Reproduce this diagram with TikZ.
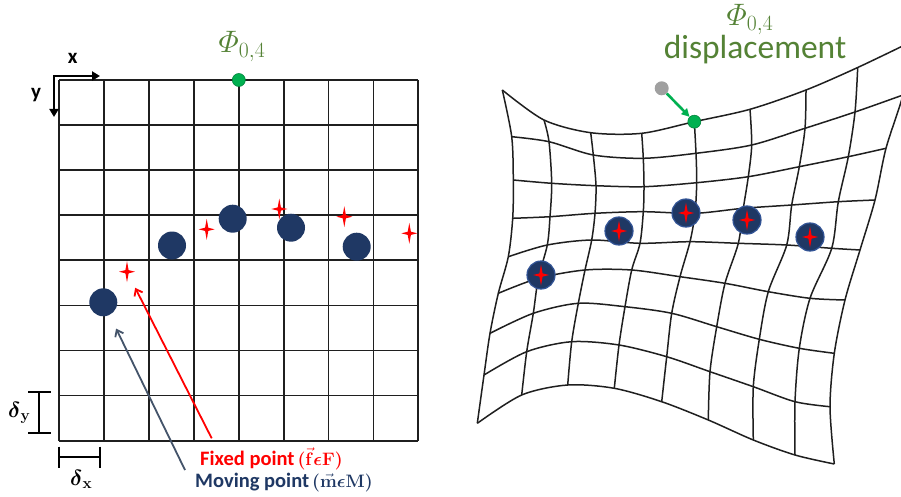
\RequirePackage{fix-cm}
\documentclass[tikz,border=0pt]{standalone}
\usepackage{amsmath,amssymb}
\usepackage[no-math]{fontspec}
\setmainfont{Carlito}
\usepackage{xcolor}
\usetikzlibrary{arrows.meta,calc}

\definecolor{mnavy}{RGB}{31,56,100}
\definecolor{rimblue}{RGB}{50,84,150}
\definecolor{slate}{RGB}{68,84,106}
\definecolor{ggreen}{RGB}{84,130,53}
\definecolor{gdotc}{RGB}{0,176,80}
\definecolor{ghost}{RGB}{160,160,160}

\newcommand{\smallmath}[1]{\hspace{3pt}{\fontsize{18}{20}\selectfont$#1$}}

\begin{document}
\begin{tikzpicture}[x=1pt,y=-1pt,
    every node/.style={inner sep=0pt},
    gline/.style ={line width=1.8pt,black!88},
    wline/.style ={line width=1.5pt,black!88},
    brk/.style   ={line width=2pt,black},
    mdot/.style  ={circle,fill=mnavy,minimum size=28pt},
    mdotw/.style ={circle,fill=mnavy,draw=rimblue,line width=1.2pt,
                   minimum size=28pt},
    gdot/.style  ={circle,fill=gdotc,draw=gdotc!75!black,line width=0.6pt,
                   minimum size=13pt},
    ghostdot/.style={circle,fill=ghost,minimum size=14pt},
    phi/.style   ={text=ggreen,font=\fontsize{31}{33}\selectfont},
    disp/.style  ={text=ggreen,font=\fontsize{33.5}{36}\selectfont},
    axlab/.style ={font=\fontsize{21}{23}\selectfont\bfseries},
    dlab/.style  ={font=\fontsize{22}{24}\selectfont},
    flab/.style  ={text=red,font=\fontsize{20.5}{22}\selectfont\bfseries},
    mlab/.style  ={text=mnavy,font=\fontsize{20.5}{22}\selectfont\bfseries},
    axarr/.style ={line width=2.6pt,{Triangle[length=8pt,width=9pt]}-{Triangle[length=8pt,width=9pt]}},
    farr/.style  ={line width=1.8pt,red,-{Straight Barb[length=6pt,width=9pt]}},
    marr/.style  ={line width=1.8pt,slate,-{Straight Barb[length=6pt,width=9pt]}},
    garr/.style  ={line width=2.6pt,gdotc,-{Triangle[length=8pt,width=8pt]}},
    fstar/.pic   ={\fill[red] (0,-10.5) -- (1.6,-1.6) -- (8,0) -- (1.6,1.6)
                   -- (0,10.5) -- (-1.6,1.6) -- (-8,0) -- (-1.6,-1.6) -- cycle;},
  ]
  \path[fill=white] (0,0) rectangle (901,497);
  \useasboundingbox (0,0) rectangle (901,497);

  % Left: regular control grid
  \foreach \i in {0,...,8} {
    \draw[gline] ({59.3+44.875*\i},80) -- ({59.3+44.875*\i},440.7);
    \draw[gline] (59.3,{80+45.08*\i}) -- (418.3,{80+45.08*\i});
  }

  % axes
  \coordinate (orig) at (54,76);
  \coordinate (xend) at (100,76);
  \coordinate (yend) at (54,117);
  \draw[axarr] (yend) -- (orig) -- (xend);
  \node[axlab] (xlab) at (72.7,58) {x};
  \node[axlab] (ylab) at (36,95) {y};

  % grid spacing
  \draw[brk] (28.3,391.7) -- (50.7,391.7) (39.3,391.7) -- (39.3,432.7)
             (28.3,432.7) -- (50.7,432.7);
  \draw[brk] (59,446.7) -- (59,468.3) (59,457.3) -- (100,457.3)
             (100,446.7) -- (100,468.3);
  \node[dlab,anchor=base west] (dy) at (8,417) {$\boldsymbol{\delta}_{\mathbf y}$};
  \node[dlab,anchor=base west] (dx) at (70,485) {$\boldsymbol{\delta}_{\mathbf x}$};

  % control point
  \node[gdot] (cpL) at (238.8,80) {};
  \node[phi,anchor=base] (phiL) at (242,53) {$\varPhi_{0,4}$};

  % moving and fixed points
  \foreach \x/\y [count=\k] in {103.3/302.3,172/245.5,232.7/218.7,291/227.7,356.7/246.7}
    \node[mdot] (mp\k) at (\x,\y) {};
  \foreach \x/\y [count=\k] in {127/271.7,206.7/229.3,279.3/209,344.3/216.7,409.3/233.3} {
    \coordinate (fp\k) at (\x,\y);
    \pic at (fp\k) {fstar};
  }

  % legend
  \node[flab,anchor=base west] (flab) at (200,465)
    {Fixed point\smallmath{\boldsymbol{(}\vec{\mathbf f}\boldsymbol{\epsilon}\mathbf F\boldsymbol{)}}};
  \node[mlab,anchor=base west] (mlab) at (195,487)
    {Moving point\smallmath{\boldsymbol{(}\vec{\mathbf m}\boldsymbol{\epsilon}\mathbf M\boldsymbol{)}}};
  \coordinate (ftail) at (211.7,438.3);
  \coordinate (mtail) at (185,470);
  \draw[farr,shorten >=18pt] (ftail) -- (fp1);
  \draw[marr,shorten >=15pt] (mtail) -- (mp1);

  % Right: deformed grid (one row of nodes per line)
  \foreach \px/\py [count=\c from 0] in {502.3/90,544/120,590.7/132.7,641.7/133.3,694.3/121.7,750/109.3,806/90,857.7/67.5,915/40}
    \coordinate (w-\c-0) at (\px,\py);
  \foreach \px/\py [count=\c from 0] in {511.7/136.7,549/141.7,593.3/155,643.3/158.3,696/153.3,751.7/145,805/128.3,855/112,903/95}
    \coordinate (w-\c-1) at (\px,\py);
  \foreach \px/\py [count=\c from 0] in {513.3/180,551.7/183.3,596/185.7,644/186.7,696.7/182.7,748.3/176.7,799.3/166.7,848.3/156.7,886/148.3}
    \coordinate (w-\c-2) at (\px,\py);
  \foreach \px/\py [count=\c from 0] in {512.7/218.3,550/216.7,595/213.3,643.3/211.7,695/213.3,743.3/208.3,791.7/205,838.3/201.7,875/200}
    \coordinate (w-\c-3) at (\px,\py);
  \foreach \px/\py [count=\c from 0] in {508.3/256.7,547.3/245,591.7/240,640/243.3,690/241.7,738.3/243.3,786.7/245,831.7/248.3,860/250}
    \coordinate (w-\c-4) at (\px,\py);
  \foreach \px/\py [count=\c from 0] in {498.3/293.3,538.3/278.3,585/270,631.7/270,680/276.7,725/283.3,768.3/291.7,810/298.3,845/300}
    \coordinate (w-\c-5) at (\px,\py);
  \foreach \px/\py [count=\c from 0] in {490/333.3,533.3/313.3,578.3/303.3,625/306.7,671.7/313.3,716.7/326.7,759.3/339.3,799.3/348.3,834.3/353.3}
    \coordinate (w-\c-6) at (\px,\py);
  \foreach \px/\py [count=\c from 0] in {484/375,526.7/351.7,571.7/341.7,619/345,666.7/356.7,710/371.7,753.3/386.7,795/401.7,830/406.7}
    \coordinate (w-\c-7) at (\px,\py);
  \foreach \px/\py [count=\c from 0] in {477.3/423.3,521.7/395,567.7/385,614.3/388.3,661.7/401.7,708.3/420,753.3/440,795/455,834.3/464}
    \coordinate (w-\c-8) at (\px,\py);
  \begin{scope}
    \clip (0,0) rectangle (901,497);
    \foreach \r in {0,...,8}
      \draw[wline] plot[smooth] coordinates {(w-0-\r) (w-1-\r) (w-2-\r) (w-3-\r)
        (w-4-\r) (w-5-\r) (w-6-\r) (w-7-\r) (w-8-\r)};
    \foreach \c in {0,...,8}
      \draw[wline] plot[smooth] coordinates {(w-\c-0) (w-\c-1) (w-\c-2) (w-\c-3)
        (w-\c-4) (w-\c-5) (w-\c-6) (w-\c-7) (w-\c-8)};
  \end{scope}

  % warped points
  \foreach \x/\y [count=\k] in {541/275,619/231,686/213,747/220,810/237} {
    \node[mdotw] (wp\k) at (\x,\y) {};
    \pic at (wp\k) {fstar};
  }

  % displaced control point
  \node[ghostdot] (cpOld) at (661.7,88.3) {};
  \node[gdot] (cpR) at (w-4-0) {};
  \draw[garr] (cpOld) -- (cpR);
  \node[phi,anchor=base] (phiR) at (750,25.5) {$\varPhi_{0,4}$};
  \node[disp,anchor=base] (disp) at (755,58.5) {displacement};
\end{tikzpicture}
\end{document}
